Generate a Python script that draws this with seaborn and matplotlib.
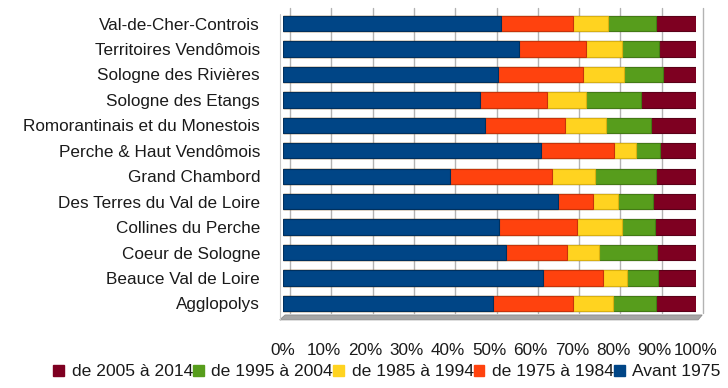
import matplotlib
matplotlib.use("Agg")
import matplotlib.pyplot as plt
import matplotlib.transforms as mtransforms
from matplotlib.patches import Polygon, Patch
import numpy as np
import pandas as pd
import seaborn as sns

# Territories (top to bottom)
territoires = [
    "Val-de-Cher-Controis",
    "Territoires Vendômois",
    "Sologne des Rivières",
    "Sologne des Etangs",
    "Romorantinais et du Monestois",
    "Perche & Haut Vendômois",
    "Grand Chambord",
    "Des Terres du Val de Loire",
    "Collines du Perche",
    "Coeur de Sologne",
    "Beauce Val de Loire",
    "Agglopolys",
]

# Share of dwellings by construction period (%)
avant_1975 = [52.7, 57.2, 52.0, 47.8, 49.0, 62.5, 40.5, 66.7, 52.4, 54.0, 63.0, 50.8]
de_1975_1984 = [17.4, 16.1, 20.7, 16.1, 19.2, 17.7, 24.6, 8.3, 18.9, 14.8, 14.4, 19.3]
de_1985_1994 = [8.7, 8.9, 9.9, 9.5, 10.0, 5.2, 10.4, 6.0, 10.9, 7.6, 5.9, 9.7]
de_1995_2004 = [11.5, 8.9, 9.3, 13.2, 10.9, 5.8, 14.9, 8.5, 7.8, 14.1, 7.4, 10.5]
de_2005_2014 = [9.7, 8.9, 8.1, 13.4, 10.9, 8.8, 9.6, 10.5, 10.0, 9.5, 9.3, 9.7]

periodes = ["Avant 1975", "de 1975 à 1984", "de 1985 à 1994",
            "de 1995 à 2004", "de 2005 à 2014"]
couleurs = ["#004586", "#ff420e", "#ffd320", "#579d1c", "#7e0021"]
bords = ["#00305e", "#c8320a", "#d9b010", "#437a15", "#5a0018"]
tick_labels = ["0%", "10%", "20%", "30%", "40%", "50%",
               "60%", "70%", "80%", "90%", "100%"]

sns.set_theme(style="white")
plt.rcParams["font.family"] = ["Liberation Sans", "DejaVu Sans"]
FS = 12.3

df = pd.DataFrame(
    {p: v for p, v in zip(periodes, [avant_1975, de_1975_1984, de_1985_1994,
                                     de_1995_2004, de_2005_2014])},
    index=territoires,
)
# Normalise each row to 100 % and stack
parts = df.div(df.sum(axis=1), axis=0) * 100
cumul = parts.cumsum(axis=1)

fig = plt.figure(figsize=(7.28, 3.88), dpi=100)
ax = fig.add_axes([283 / 728, 1 - 316.2 / 388, (696 - 283) / 728, (316.2 - 10.8) / 388])

# Back wall grid, shifted to suggest depth
grid_tr = mtransforms.offset_copy(ax.get_xaxis_transform(), fig=fig, x=7, y=3, units="dots")
for xv in range(0, 101, 10):
    ax.plot([xv, xv], [0.0, 1.0], transform=grid_tr, color="#b3b3b3",
            lw=1.0, clip_on=False, zorder=0)

# Floor and front-left edge
floor = Polygon([(-0.8, -0.012), (100.5, -0.012), (101.5, 0.004), (0.5, 0.004)],
                closed=True, transform=ax.get_xaxis_transform(),
                facecolor="#a6a6a6", edgecolor="#8c8c8c", lw=0.6,
                clip_on=False, zorder=0.5)
ax.add_patch(floor)
ax.plot([-0.8, -0.8], [-0.012, 0.99], transform=ax.get_xaxis_transform(),
        color="#c8c8c8", lw=0.8, clip_on=False, zorder=0.5)

# Stacked bars: widest cumulative first, narrower ones drawn over it
for periode, couleur, bord in zip(periodes[::-1], couleurs[::-1], bords[::-1]):
    sns.barplot(x=cumul[periode].values, y=territoires, orient="h",
                color=couleur, width=0.6, ax=ax, saturation=1,
                edgecolor=bord, linewidth=0.8, zorder=2)

ax.set_xlim(0, 100)
ax.set_ylim(11.5, -0.5)
ax.set_xticks(range(0, 101, 10))
ax.set_xticklabels(tick_labels, fontsize=FS, color="#1a1a1a")
ax.tick_params(axis="x", length=0, pad=19)
ax.tick_params(axis="y", length=0, pad=16.5, labelsize=FS, labelcolor="#1a1a1a")
ax.set_xlabel("")
ax.set_ylabel("")
for s in ax.spines.values():
    s.set_visible(False)
ax.set_facecolor("none")

handles = [Patch(facecolor=c, edgecolor=c, label=p)
           for p, c in zip(periodes[::-1], couleurs[::-1])]
fig.legend(handles=handles, loc="lower center", bbox_to_anchor=(387 / 728, -0.005),
           ncol=5, frameon=False, fontsize=12.6, handlelength=0.6,
           handleheight=0.6, handletextpad=0.45, columnspacing=0.0,
           borderaxespad=0.2, labelcolor="#1a1a1a")

fig.savefig("out.png", dpi=100)
